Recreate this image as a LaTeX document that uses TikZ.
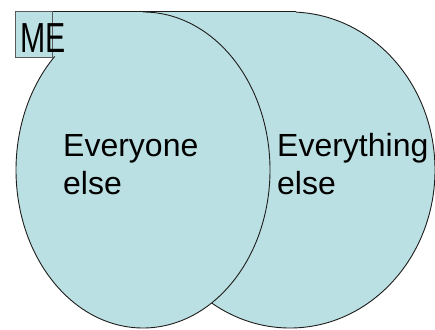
\documentclass[tikz,border=0pt]{standalone}
\usepackage{fontspec}
\setmainfont{Liberation Sans}
\definecolor{vennBlue}{HTML}{BBE0E3}
\definecolor{vennLine}{HTML}{1D1D1B}
\definecolor{vennGrey}{HTML}{5A5A5A}
\usepackage{tikz}
\usetikzlibrary{positioning}
\tikzset{
    venn fill/.style={fill=vennBlue, draw=none},
    venn edge/.style={draw=vennLine, line width=0.9pt},
    me box/.style={rectangle, draw=vennGrey, fill=vennBlue, line width=0.9pt, minimum width=37pt, minimum height=46pt, inner sep=0pt},
    venn label/.style={inner sep=0pt, align=left, font=\fontsize{32}{38}\selectfont},
}

\begin{document}
\begin{tikzpicture}[x=1pt, y=1pt]
        \useasboundingbox (0,0) rectangle (435,329);
        % right circle: everything else
        \fill[venn fill] (290,159) ellipse [x radius=145, y radius=158];
        \draw[venn edge] (290,159) ellipse [x radius=145, y radius=158];
        % top band joining the two
        \fill[venn fill] (15,272) rectangle (296,317.5);
        % left circle: everyone else
        \fill[venn fill] (143,159) ellipse [x radius=127, y radius=158];
        \draw[venn edge] ([shift={(134:127 and 158)}]143,159) arc [start angle=134, end angle=450, x radius=127, y radius=158];
        \coordinate (topleft) at (15,317.5);
        \coordinate (topright) at (296,317.5);
        \draw[venn edge] (topleft) -- (topright);
        % me
        \node[me box, anchor=north west] (mebox) at (15,318) {};
        \node[inner sep=0pt, anchor=base west, xscale=0.72, font=\fontsize{42}{46}\selectfont] (me) at (20,276) {ME};
        \node[venn label, anchor=base west] (everyone) at (63,134) {Everyone\\else};
        \node[venn label, anchor=base west] (everything) at (277,134) {Everything\\else};
    \end{tikzpicture}
\end{document}
